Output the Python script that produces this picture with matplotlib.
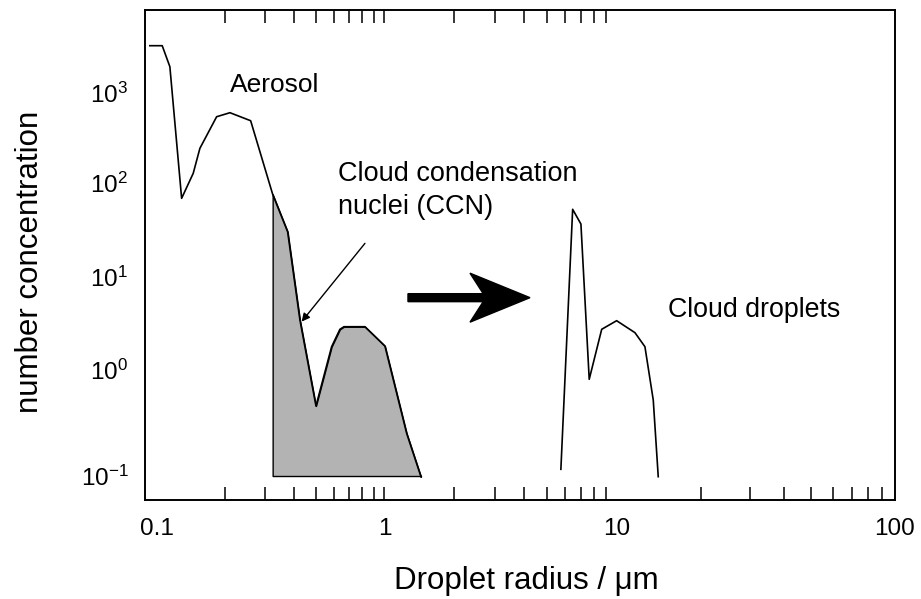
import numpy as np
import matplotlib
matplotlib.use("Agg")
import matplotlib.pyplot as plt
from matplotlib.ticker import FixedLocator, NullLocator, FixedFormatter
from matplotlib.patches import FancyArrow

plt.rcParams['font.family'] = ['Liberation Sans', 'DejaVu Sans']
plt.rcParams['mathtext.fontset'] = 'custom'
plt.rcParams['mathtext.rm'] = 'Liberation Sans'
plt.rcParams['mathtext.it'] = 'Liberation Sans:italic'
plt.rcParams['mathtext.bf'] = 'Liberation Sans:bold'

# Aerosol size distribution: radius (µm) and number concentration
aerosol_r = [0.0931, 0.1055, 0.1140, 0.1284, 0.1444, 0.1545, 0.1830, 0.2094,
             0.2582, 0.2836, 0.3226, 0.3754, 0.4252, 0.5001, 0.5859, 0.6373,
             0.6637, 0.8212, 1.005, 1.246, 1.436]
aerosol_n = [3354, 3354, 1960, 68.7, 128.2, 243, 545, 604,
             492, 223, 76.0, 30.3, 3.45, 0.458, 1.78, 2.74,
             2.92, 2.92, 1.81, 0.253, 0.0985]

# Particles larger than this radius act as cloud condensation nuclei
ccn_cut = 0.32
ccn_floor = 0.1

# Cloud droplet spectrum
droplet_r = [5.74, 6.45, 7.00, 7.60, 8.60, 9.97, 11.61, 12.61, 13.51, 14.08]
droplet_n = [0.1157, 52.5, 36.6, 0.817, 2.74, 3.39, 2.52, 1.78, 0.521, 0.0985]

# Axis ticks
x_major = [0.1, 1, 10, 100]
x_major_labels = ['0.1', '1', '10', '100']
x_minor_bottom = [0.2, 0.3, 0.4, 0.5, 0.6, 0.7, 0.8, 0.9, 1.0,
                  2, 3, 4, 5, 6, 7, 8, 9,
                  20, 30, 40, 50, 60, 70, 80, 90]
x_minor_top = [0.2, 0.3, 0.4, 0.5, 0.6, 0.7, 0.8, 0.9, 1.0,
               2, 3, 4, 5, 6, 7, 8, 9]
y_major = [0.1, 1, 10, 100, 1000]
y_major_labels = [r'$\mathregular{10^{-1}}$', r'$\mathregular{10^{0}}$',
                  r'$\mathregular{10^{1}}$', r'$\mathregular{10^{2}}$',
                  r'$\mathregular{10^{3}}$']

# Logarithmic axes with slightly uneven decade lengths
_X_LOG = np.array([-3.0, -1.0, 0.0, 1.0, 2.0, 4.0])
_X_POS = np.array([-455.0, 0.0, 227.5, 460.0, 738.0, 1294.0])
_Y_LOG = np.array([-3.0, -1.0, 0.0, 1.0, 2.0, 3.0, 5.0])
_Y_POS = np.array([-212.0, 0.0, 106.0, 199.0, 293.0, 383.0, 563.0])


def _make_scale(knots_log, knots_pos):
    def fwd(v):
        v = np.asarray(v, dtype=float)
        lv = np.log10(np.where(v > 0, v, 1e-300))
        return np.interp(lv, knots_log, knots_pos)

    def inv(p):
        return 10 ** np.interp(np.asarray(p, dtype=float), knots_pos, knots_log)
    return fwd, inv


x_fwd, x_inv = _make_scale(_X_LOG, _X_POS)
y_fwd, y_inv = _make_scale(_Y_LOG, _Y_POS)

fig = plt.figure(figsize=(9.21, 5.99), dpi=100)
ax = fig.add_axes([0.1574, 0.1653, 0.8143, 0.8180])

ax.set_xscale('function', functions=(x_fwd, x_inv))
ax.set_yscale('function', functions=(y_fwd, y_inv))
ax.set_xlim(0.0886, 100)
ax.set_ylim(0.0594, 8360)

# curves
r = np.asarray(aerosol_r)
n = np.asarray(aerosol_n)
mask = r >= ccn_cut
ax.fill_between(r[mask], n[mask], ccn_floor, facecolor='#b3b3b3',
                edgecolor='black', linewidth=1.0, zorder=2)
ax.plot(aerosol_r, aerosol_n, color='black', linewidth=1.2, zorder=3)
ax.plot(droplet_r, droplet_n, color='black', linewidth=1.2, zorder=3)

# labels inside the plot
ax.text(0.2094, 1227, 'Aerosol', fontsize=19, ha='left', va='center')
ax.text(0.6247, 83.2, 'Cloud condensation\nnuclei (CCN)', fontsize=19.5,
        ha='left', va='center', linespacing=1.32)
ax.text(15.26, 4.42, 'Cloud droplets', fontsize=19.3, ha='left', va='center')
ax.annotate('', xy=(0.4325, 3.31), xytext=(0.821, 22.8),
            arrowprops=dict(arrowstyle='-|>', color='black', lw=1.0,
                            mutation_scale=12, shrinkA=0, shrinkB=0))

# big arrow: aerosol -> cloud droplets
ax.add_patch(FancyArrow(0.3507, 0.4129, 0.1627, 0.0, width=0.0163,
                        head_width=0.10, head_length=0.08, overhang=0.22,
                        length_includes_head=True, color='black',
                        transform=ax.transAxes, zorder=4))

# x axis
ax.xaxis.remove_overlapping_locs = False
ax.xaxis.set_major_locator(FixedLocator(x_major))
ax.xaxis.set_major_formatter(FixedFormatter(x_major_labels))
ax.xaxis.set_minor_locator(FixedLocator(x_minor_bottom))
ax.tick_params(axis='x', which='major', length=0, pad=13, labelsize=17.5)
ax.tick_params(axis='x', which='minor', direction='in', length=9.5,
               width=1.1, top=False)

# y axis
ax.yaxis.set_major_locator(FixedLocator(y_major))
ax.yaxis.set_major_formatter(FixedFormatter(y_major_labels))
ax.yaxis.set_minor_locator(NullLocator())
ax.tick_params(axis='y', which='major', length=0, pad=12, labelsize=17.5)

for s in ax.spines.values():
    s.set_linewidth(1.2)

# top ticks
ax2 = ax.twiny()
ax2.set_xscale('function', functions=(x_fwd, x_inv))
ax2.set_xlim(ax.get_xlim())
ax2.xaxis.remove_overlapping_locs = False
ax2.xaxis.set_major_locator(NullLocator())
ax2.xaxis.set_minor_locator(FixedLocator(x_minor_top))
ax2.tick_params(axis='x', which='minor', direction='in', length=9.5,
                width=1.1, labeltop=False)
for s in ax2.spines.values():
    s.set_linewidth(1.2)

ax.set_xlabel('Droplet radius / μm', fontsize=22.5)
ax.xaxis.set_label_coords(0.509, -0.135)
ax.set_ylabel('number concentration', fontsize=22.5)
ax.yaxis.set_label_coords(-0.133, 0.486)

fig.savefig('out.png', dpi=100)
